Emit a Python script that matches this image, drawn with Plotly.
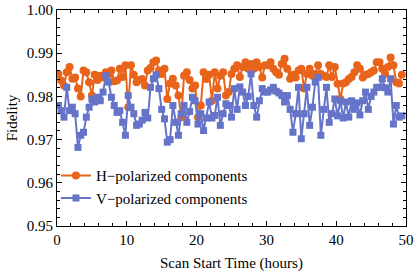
import plotly.graph_objects as go

times = [0.2, 0.6, 1.0, 1.4, 1.8, 2.2, 2.6, 3.0, 3.4, 3.8, 4.2, 4.6, 5.0, 5.4, 5.8, 6.2, 6.6, 7.0, 7.4, 7.8,
         8.2, 8.6, 9.0, 9.4, 9.8, 10.2, 10.6, 11.0, 11.4, 11.8, 12.2, 12.6, 13.0, 13.4, 13.8, 14.2, 14.6, 15.0, 15.4, 15.8,
         16.2, 16.6, 17.0, 17.4, 17.8, 18.2, 18.6, 19.0, 19.4, 19.8, 20.2, 20.6, 21.0, 21.4, 21.8, 22.2, 22.6, 23.0, 23.4, 23.8,
         24.2, 24.6, 25.0, 25.4, 25.8, 26.2, 26.6, 27.0, 27.4, 27.8, 28.2, 28.6, 29.0, 29.4, 29.8, 30.2, 30.6, 31.0, 31.4, 31.8,
         32.2, 32.6, 33.0, 33.4, 33.8, 34.2, 34.6, 35.0, 35.4, 35.8, 36.2, 36.6, 37.0, 37.4, 37.8, 38.2, 38.6, 39.0, 39.4, 39.8,
         40.2, 40.6, 41.0, 41.4, 41.8, 42.2, 42.6, 43.0, 43.4, 43.8, 44.2, 44.6, 45.0, 45.4, 45.8, 46.2, 46.6, 47.0, 47.4, 47.8,
         48.2, 48.6, 49.0, 49.4]

h_fidelity = [0.9852, 0.9837, 0.9825, 0.9856, 0.9868, 0.9841, 0.9844, 0.9818, 0.9800, 0.9860, 0.9856, 0.9833, 0.9802, 0.9850, 0.9838, 0.9848, 0.9844, 0.9856, 0.9850, 0.9860,
              0.9835, 0.9837, 0.9864, 0.9845, 0.9872, 0.9775, 0.9872, 0.9850, 0.9833, 0.9838, 0.9840, 0.9825, 0.9860, 0.9866, 0.9879, 0.9883, 0.9860, 0.9852, 0.9864, 0.9794,
              0.9830, 0.9841, 0.9825, 0.9802, 0.9752, 0.9848, 0.9856, 0.9838, 0.9818, 0.9825, 0.9752, 0.9779, 0.9856, 0.9840, 0.9850, 0.9790, 0.9856, 0.9818, 0.9848, 0.9856,
              0.9802, 0.9810, 0.9852, 0.9864, 0.9872, 0.9845, 0.9868, 0.9879, 0.9864, 0.9875, 0.9864, 0.9879, 0.9868, 0.9844, 0.9872, 0.9872, 0.9879, 0.9864, 0.9856, 0.9850,
              0.9875, 0.9887, 0.9864, 0.9841, 0.9850, 0.9844, 0.9860, 0.9864, 0.9818, 0.9852, 0.9864, 0.9848, 0.9852, 0.9872, 0.9852, 0.9848, 0.9845, 0.9872, 0.9845, 0.9868,
              0.9829, 0.9794, 0.9830, 0.9833, 0.9840, 0.9845, 0.9856, 0.9872, 0.9864, 0.9844, 0.9850, 0.9852, 0.9856, 0.9860, 0.9879, 0.9879, 0.9864, 0.9852, 0.9868, 0.9890,
              0.9872, 0.9833, 0.9830, 0.9850]

v_fidelity = [0.9779, 0.9767, 0.9752, 0.9821, 0.9767, 0.9775, 0.9760, 0.9682, 0.9710, 0.9717, 0.9752, 0.9775, 0.9794, 0.9787, 0.9798, 0.9790, 0.9810, 0.9848, 0.9833, 0.9798,
              0.9779, 0.9763, 0.9767, 0.9740, 0.9710, 0.9802, 0.9775, 0.9760, 0.9733, 0.9736, 0.9745, 0.9763, 0.9750, 0.9821, 0.9841, 0.9850, 0.9818, 0.9770, 0.9748, 0.9694,
              0.9700, 0.9779, 0.9740, 0.9710, 0.9760, 0.9779, 0.9740, 0.9765, 0.9798, 0.9790, 0.9736, 0.9760, 0.9721, 0.9750, 0.9787, 0.9750, 0.9756, 0.9798, 0.9733, 0.9760,
              0.9783, 0.9779, 0.9752, 0.9818, 0.9770, 0.9822, 0.9810, 0.9779, 0.9800, 0.9852, 0.9779, 0.9752, 0.9790, 0.9818, 0.9810, 0.9810, 0.9815, 0.9821, 0.9812, 0.9808,
              0.9802, 0.9787, 0.9802, 0.9770, 0.9717, 0.9760, 0.9821, 0.9702, 0.9760, 0.9821, 0.9733, 0.9775, 0.9833, 0.9844, 0.9710, 0.9770, 0.9821, 0.9740, 0.9760, 0.9794,
              0.9755, 0.9790, 0.9750, 0.9787, 0.9752, 0.9790, 0.9770, 0.9785, 0.9757, 0.9790, 0.9810, 0.9770, 0.9800, 0.9810, 0.9821, 0.9821, 0.9841, 0.9820, 0.9810, 0.9841,
              0.9736, 0.9779, 0.9752, 0.9755]

x_ticks = [0, 10, 20, 30, 40, 50]
y_ticks = [0.95, 0.96, 0.97, 0.98, 0.99, 1.00]
series_names = ["H\u2212polarized components", "V\u2212polarized components"]
x_title = "Scan Start Time (hours)"
y_title = "Fidelity"

orange = "#E8641A"
blue = "#6574C8"
font = "Liberation Serif"

fig = go.Figure()
fig.add_trace(go.Scatter(x=times, y=h_fidelity, mode="lines+markers", name=series_names[0],
                         line=dict(color=orange, width=2),
                         marker=dict(symbol="circle", size=8, color=orange)))
fig.add_trace(go.Scatter(x=times, y=v_fidelity, mode="lines+markers", name=series_names[1],
                         line=dict(color=blue, width=2),
                         marker=dict(symbol="square", size=7, color=blue)))

axis_common = dict(showline=True, linecolor="black", linewidth=1, mirror="allticks",
                   ticks="inside", ticklen=5, tickcolor="black", showgrid=False, zeroline=False,
                   automargin=False,
                   tickfont=dict(family=font, size=15, color="black"))

fig.update_xaxes(range=[0, 50], tickvals=x_ticks, ticktext=[str(v) for v in x_ticks],
                 minor=dict(ticks="inside", ticklen=3, dtick=2, tickcolor="black"),
                 **axis_common)
fig.update_yaxes(range=[0.95, 1.00], tickvals=y_ticks, ticktext=[f"{v:.2f}" for v in y_ticks],
                 minor=dict(ticks="inside", ticklen=3, dtick=0.002, tickcolor="black"),
                 **axis_common)

fig.add_annotation(text=x_title, xref="paper", yref="paper", x=0.5, y=-0.175,
                   xanchor="center", yanchor="middle", showarrow=False,
                   font=dict(family=font, size=15, color="black"))
fig.add_annotation(text=y_title, xref="paper", yref="paper", x=-0.128, y=0.5,
                   xanchor="center", yanchor="middle", textangle=-90, showarrow=False,
                   font=dict(family=font, size=15, color="black"))

fig.update_layout(
    width=415, height=272,
    margin=dict(l=57, r=9, t=10, b=46),
    paper_bgcolor="white", plot_bgcolor="white",
    font=dict(family=font, size=15, color="black"),
    legend=dict(x=-0.003, y=0.054, xanchor="left", yanchor="bottom",
                bgcolor="rgba(0,0,0,0)", font=dict(family=font, size=15, color="black"),
                itemwidth=30, tracegroupgap=0),
)

fig.write_html("out.html", config={"displayModeBar": False},
               post_script="document.body.style.margin='0';document.body.style.overflow='hidden';")
